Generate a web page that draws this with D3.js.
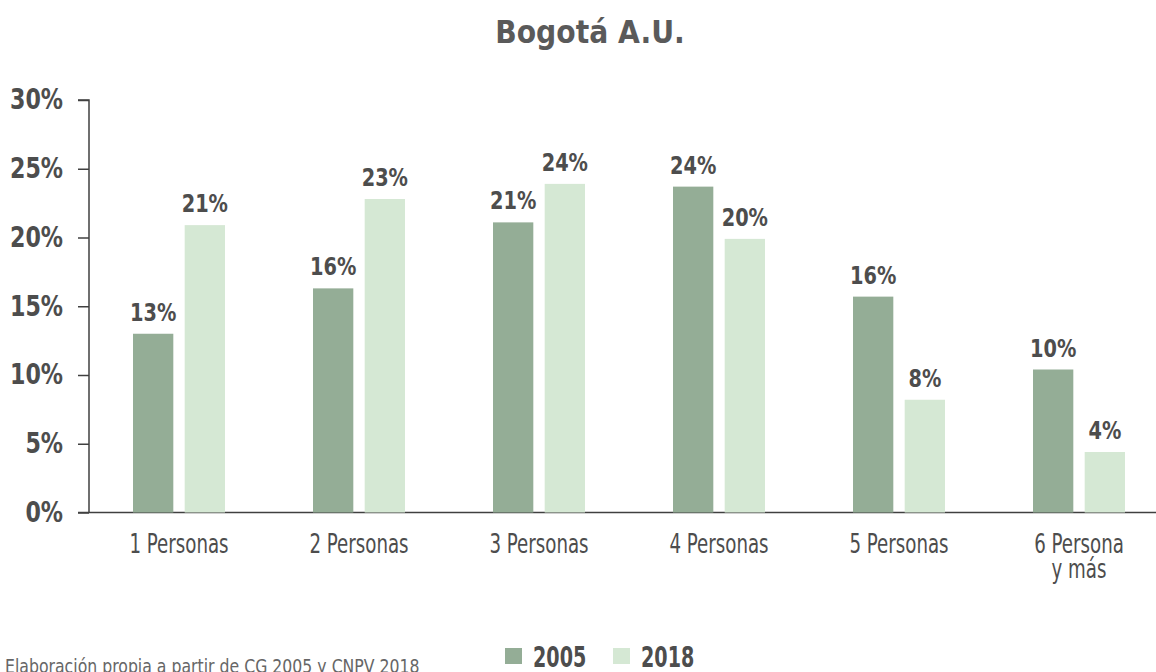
<!DOCTYPE html>
<html>
<head>
<meta charset="utf-8">
<script src="https://cdn.jsdelivr.net/npm/d3@7"></script>
<style>
  html, body { margin: 0; padding: 0; background: #fff; }
  svg { display: block; }
  text { font-family: "DejaVu Sans Condensed", "DejaVu Sans", sans-serif; }
</style>
</head>
<body>
<svg id="chart" width="1156" height="672"></svg>
<script>
const categories = ["1 Personas", "2 Personas", "3 Personas", "4 Personas", "5 Personas", "6 Persona\ny más"];
const seriesNames = ["2005", "2018"];
const values2005 = [13.0, 16.3, 21.1, 23.7, 15.7, 10.4];
const values2018 = [20.9, 22.8, 23.9, 19.9, 8.2, 4.4];
const yTicks = [0, 5, 10, 15, 20, 25, 30];
const colors = ["#94ad96", "#d5e8d4"];
const title = "Bogotá A.U.";
const source = "Elaboración propia a partir de CG 2005 y CNPV 2018";

const textColor = "#4d4d4d";
const svg = d3.select("#chart");

const x0 = d3.scaleBand().domain(categories).range([89, 1169]).paddingInner(0).paddingOuter(0);
const x1 = d3.scaleBand().domain(seriesNames).range([44, 136]).paddingInner(0.22);
const y = d3.scaleLinear().domain([0, 30]).range([512.5, 100]);

// title
svg.append("text").attr("transform", "translate(590,43) scale(0.98,1)").attr("text-anchor", "middle")
  .attr("font-size", 32).attr("font-weight", "bold").attr("fill", "#5a5a5a").text(title);

// y axis
const tickSx = 0.88;
const yAxis = svg.append("g").attr("transform", "translate(89,0)")
  .call(d3.axisLeft(y).tickValues(yTicks).tickSize(11).tickPadding(15).tickFormat(d => d + "%"));
yAxis.select(".domain").attr("stroke", "#404040").attr("stroke-width", 1.5).attr("d", `M-11,${y(30)}H0V${y(0)}`);
yAxis.selectAll(".tick line").attr("stroke", "#404040").attr("stroke-width", 1.5);
yAxis.selectAll(".tick text").attr("font-size", 28).attr("font-weight", "bold").attr("fill", textColor)
  .attr("x", -26 / tickSx).attr("transform", `scale(${tickSx},1)`)
  .style("font-family", '"DejaVu Sans Condensed", "DejaVu Sans", sans-serif');

// x axis baseline
svg.append("line").attr("x1", 78).attr("x2", 1156).attr("y1", y(0)).attr("y2", y(0))
  .attr("stroke", "#404040").attr("stroke-width", 1.5);

const data = categories.map((c, i) => ({ cat: c, vals: [values2005[i], values2018[i]] }));

const groups = svg.append("g").selectAll("g").data(data).join("g")
  .attr("transform", d => `translate(${x0(d.cat)},0)`);

const bars = d => d.vals.map((v, j) => ({ s: seriesNames[j], v, j }));

groups.selectAll("rect").data(bars)
  .join("rect")
  .attr("x", d => x1(d.s)).attr("width", x1.bandwidth())
  .attr("y", d => y(d.v)).attr("height", d => y(0) - y(d.v))
  .attr("fill", d => colors[d.j]);

groups.selectAll("text.val").data(bars)
  .join("text").attr("class", "val")
  .attr("transform", d => `translate(${x1(d.s) + x1.bandwidth() / 2},${y(d.v) - 13}) scale(0.86,1)`)
  .attr("text-anchor", "middle").attr("font-size", 25).attr("font-weight", "bold")
  .attr("fill", textColor).text(d => Math.round(d.v) + "%");

// category labels
groups.each(function(d) {
  const g = d3.select(this);
  d.cat.split("\n").forEach((line, i) => {
    g.append("text").attr("class", "cat")
      .attr("transform", `translate(${x0.bandwidth() / 2},${553 + i * 25}) scale(0.75,1)`)
      .attr("text-anchor", "middle").attr("font-size", 27).attr("fill", textColor).text(line);
  });
});

// legend
const legend = svg.append("g");
const legX = [505, 613];
seriesNames.forEach((s, i) => {
  legend.append("rect").attr("x", legX[i]).attr("y", 648).attr("width", 17).attr("height", 16).attr("fill", colors[i]);
  legend.append("text").attr("transform", `translate(${legX[i] + 28},667) scale(0.76,1)`)
    .attr("font-size", 28).attr("font-weight", "bold").attr("fill", textColor).text(s);
});

// source
svg.append("text").attr("transform", "translate(5,673) scale(0.92,1)")
  .attr("font-size", 19).attr("fill", "#666").text(source);
</script>
</body>
</html>
